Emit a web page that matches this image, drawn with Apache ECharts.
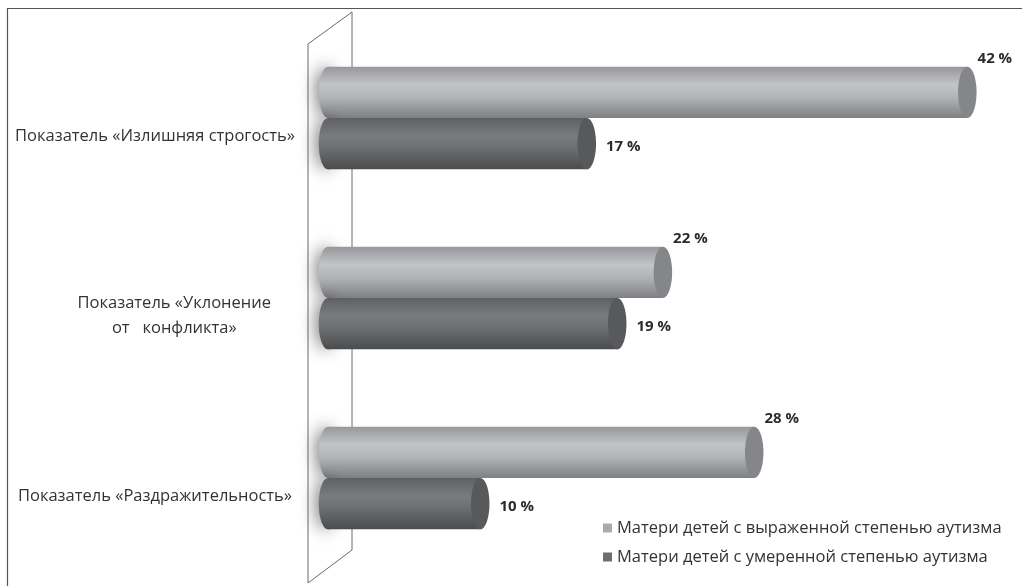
<!DOCTYPE html>
<html>
<head>
<meta charset="utf-8">
<script src="https://cdn.jsdelivr.net/npm/echarts@6/dist/echarts.min.js"></script>
<style>html,body{margin:0;padding:0;background:#fff}#c{width:1022px;height:586px}</style>
</head>
<body>
<div id="c"></div>
<script>
const categories = ['Показатель «Излишняя строгость»', '         Показатель «Уклонение\n         от   конфликта»', 'Показатель «Раздражительность»'];
const seriesNames = ['Матери детей с выраженной степенью аутизма', 'Матери детей с умеренной степенью аутизма'];
const severeValues = [42, 22, 28];
const moderateValues = [17, 19, 10];

const FONT = '"Open Sans", "Noto Sans", sans-serif';

const styles = [
  { grad: [[0, '#96979a'], [0.35, '#c3c4c6'], [0.6, '#b2b3b5'], [1, '#7f8083']], end: '#858689', legend: '#a9aaac' },
  { grad: [[0, '#5f6062'], [0.35, '#7a7b7d'], [0.6, '#6c6d6f'], [1, '#4a4b4d']], end: '#58595b', legend: '#6d6e70' }
];

function gradient(stops) {
  return new echarts.graphic.LinearGradient(0, 0, 0, 1, stops.map(s => ({ offset: s[0], color: s[1] })));
}

function makeRender(si) {
  return function (params, api) {
    const v = api.value(0), c = api.value(1);
    const p0 = api.coord([0, c]);
    const p1 = api.coord([v, c]);
    const band = api.size([0, 1])[1];
    const h = band * 0.285;
    const cy = p0[1] + (si === 0 ? -h / 2 : h / 2);
    const rx = h * 0.18;
    const st = styles[si];
    const label = v + ' %';
    const lx = p1[0] + rx + (si === 0 ? 1 : 10);
    const ly = si === 0 ? cy - h / 2 - 8 : cy + 3;
    return {
      type: 'group',
      children: [
        { type: 'ellipse', shape: { cx: p0[0], cy: cy, rx: rx, ry: h / 2 },
          style: { fill: gradient(st.grad), shadowBlur: 16, shadowColor: 'rgba(0,0,0,0.5)', shadowOffsetX: -3 } },
        { type: 'rect', shape: { x: p0[0], y: cy - h / 2, width: p1[0] - p0[0], height: h },
          style: { fill: gradient(st.grad) } },
        { type: 'ellipse', shape: { cx: p1[0], cy: cy, rx: rx, ry: h / 2 },
          style: { fill: st.end } },
        { type: 'text', x: lx, y: ly,
          style: { text: label, fill: '#2b2b2b', font: 'bold 15px ' + FONT, textAlign: 'left', textVerticalAlign: 'middle' } }
      ]
    };
  };
}

const chart = echarts.init(document.getElementById('c'));
chart.setOption({
  animation: false,
  backgroundColor: '#fff',
  graphic: [
    { type: 'rect', z: 0, shape: { x: 7.5, y: 8.5, width: 1040, height: 600 }, style: { fill: 'none', stroke: '#555', lineWidth: 1.2 } },
    { type: 'polygon', z: 0, shape: { points: [[308, 44], [352, 12], [352, 550], [308, 583]] }, style: { fill: '#fff', stroke: '#6a6a6a', lineWidth: 1 } }
  ],
  grid: { left: 328, right: 9, top: 28, bottom: 18 },
  xAxis: { type: 'value', min: 0, max: 45, show: false },
  yAxis: {
    type: 'category', data: categories, inverse: true,
    axisLine: { show: false }, axisTick: { show: false }, splitLine: { show: false },
    axisLabel: {
      margin: 173, align: 'center', fontSize: 16.5, color: '#333', fontFamily: FONT, lineHeight: 25,
      formatter: function (value) {
        return '{e| }\n' + value.split('\n').map(l => '{n|' + l + '}').join('\n');
      },
      rich: {
        e: { fontSize: 10, lineHeight: 36 },
        n: { fontSize: 16.5, color: '#333', fontFamily: FONT, lineHeight: 25 }
      }
    }
  },
  legend: {
    orient: 'vertical', left: 598, top: 514, itemGap: 11, icon: 'rect', itemWidth: 9, itemHeight: 9,
    textStyle: { fontSize: 16.5, color: '#333', fontFamily: FONT, lineHeight: 18 },
    data: seriesNames
  },
  series: [
    { name: seriesNames[0], type: 'custom', renderItem: makeRender(0), itemStyle: { color: styles[0].legend },
      encode: { x: 0, y: 1 }, data: severeValues.map((v, i) => [v, i]), z: 3 },
    { name: seriesNames[1], type: 'custom', renderItem: makeRender(1), itemStyle: { color: styles[1].legend },
      encode: { x: 0, y: 1 }, data: moderateValues.map((v, i) => [v, i]), z: 4 }
  ]
});
</script>
</body>
</html>
